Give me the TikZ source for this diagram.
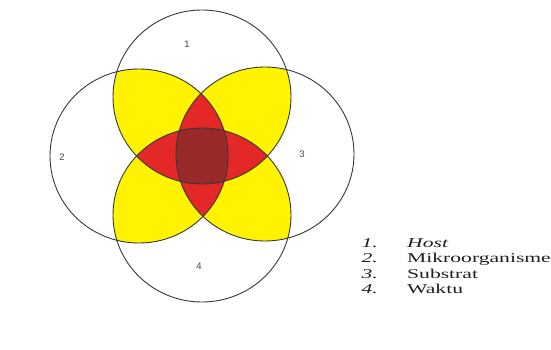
\documentclass[tikz,border=0pt]{standalone}
\usepackage{fontspec}
\setmainfont{Liberation Serif}
\newfontfamily\legendfont[FakeStretch=1.6]{Liberation Serif}
\newfontfamily\ringfont{Liberation Sans}
\usepackage{tikz}
\usetikzlibrary{positioning}
\definecolor{ringgray}{RGB}{55,55,55}
\definecolor{labelgray}{RGB}{70,70,70}
\definecolor{legendgray}{RGB}{30,30,30}
\definecolor{petalyellow}{RGB}{255,243,0}
\definecolor{innerred}{RGB}{228,40,40}
\definecolor{corebrown}{RGB}{152,42,42}

% the four sets
\def\hostset{(c1) ellipse [x radius=89pt, y radius=87pt]}
\def\mikroset{(c2) ellipse [x radius=89pt, y radius=87pt]}
\def\substratset{(c3) ellipse [x radius=89pt, y radius=87pt]}
\def\waktuset{(c4) ellipse [x radius=89pt, y radius=87pt]}

\begin{document}
\begin{tikzpicture}[
  x=1pt, y=-1pt,
  ring/.style={draw=ringgray, line width=0.9pt},
  petal/.style={fill=petalyellow},
  inner/.style={fill=innerred},
  core/.style={fill=corebrown},
  setlabel/.style={font=\ringfont\fontsize{9.5}{11}\selectfont, text=labelgray},
  legnum/.style={font=\legendfont\itshape\fontsize{13.5}{15}\selectfont, text=legendgray, anchor=base east, inner sep=0pt},
  legtext/.style={font=\legendfont\fontsize{13.5}{15}\selectfont, text=legendgray, anchor=base west, inner sep=0pt}
]
\useasboundingbox (0,0) rectangle (551,350);

\coordinate (c1) at (202,97);
\coordinate (c2) at (139,156);
\coordinate (c3) at (265,154);
\coordinate (c4) at (202,215);

% two sets
\begin{scope}
  \clip \hostset;
  \fill[petal] \mikroset;
  \fill[petal] \substratset;
\end{scope}
\begin{scope}
  \clip \waktuset;
  \fill[petal] \mikroset;
  \fill[petal] \substratset;
\end{scope}

% three sets
\begin{scope}
  \clip \hostset;
  \clip \mikroset;
  \fill[inner] \substratset;
  \fill[inner] \waktuset;
\end{scope}
\begin{scope}
  \clip \substratset;
  \clip \waktuset;
  \fill[inner] \hostset;
  \fill[inner] \mikroset;
\end{scope}

% all four
\begin{scope}
  \clip \hostset;
  \clip \mikroset;
  \clip \substratset;
  \fill[core] \waktuset;
\end{scope}

\draw[ring] \hostset;
\draw[ring] \mikroset;
\draw[ring] \substratset;
\draw[ring] \waktuset;

\node[setlabel] (l1) at (187,44) {1};
\node[setlabel] (l2) at (62,157) {2};
\node[setlabel] (l3) at (302,154) {3};
\node[setlabel] (l4) at (199,266) {4};

% legend
\node[legnum]  (n1) at (378,247)   {1.};
\node[legtext] (t1) at (407,247)   {\itshape Host};
\node[legnum]  (n2) at (378,262.5) {2.};
\node[legtext] (t2) at (407,262.5) {Mikroorganisme};
\node[legnum]  (n3) at (378,278)   {3.};
\node[legtext] (t3) at (407,278)   {Substrat};
\node[legnum]  (n4) at (378,293)   {4.};
\node[legtext] (t4) at (407,293)   {Waktu};
\end{tikzpicture}
\end{document}
